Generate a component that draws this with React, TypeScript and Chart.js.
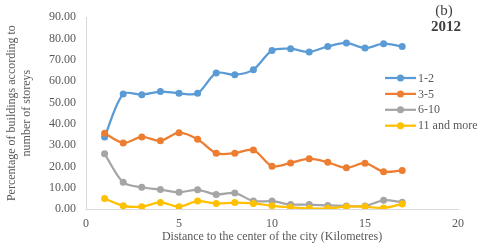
import React, { useEffect, useRef } from "react";
import { Chart, registerables } from "chart.js";

Chart.register(...registerables);

const distances = [1, 2, 3, 4, 5, 6, 7, 8, 9, 10, 11, 12, 13, 14, 15, 16, 17];
const storeys1to2 = [33.8, 54.0, 53.6, 55.1, 54.3, 54.3, 63.8, 63.0, 65.4, 74.4, 75.2, 73.7, 76.3, 77.9, 75.5, 77.6, 76.3];
const storeys3to5 = [35.6, 31.0, 33.8, 32.0, 35.8, 32.7, 26.2, 26.2, 27.7, 20.1, 21.6, 23.6, 21.9, 19.3, 21.5, 17.5, 18.1];
const storeys6to10 = [25.9, 12.5, 10.2, 9.1, 7.9, 9.0, 6.8, 7.5, 3.7, 3.7, 2.1, 2.1, 1.7, 1.4, 1.4, 4.1, 3.2];
const storeys11plus = [4.9, 1.5, 1.1, 3.1, 1.1, 3.7, 2.6, 3.0, 2.6, 1.5, 0.8, 0.3, 0.3, 1.1, 1.1, 0.5, 2.3];
const seriesLabels = ["1-2", "3-5", "6-10", "11 and more"];
const seriesColors = ["#5B9BD5", "#ED7D31", "#A5A5A5", "#FFC000"];
const panelLabel = "(b)";
const yearLabel = "2012";

const FONT = "'Liberation Serif', 'Times New Roman', serif";
const TEXT = "#595959";

export default function App() {
  const ref = useRef<HTMLCanvasElement | null>(null);
  useEffect(() => {
    const canvas = ref.current;
    if (!canvas) return;
    const seriesValues = [storeys1to2, storeys3to5, storeys6to10, storeys11plus];
    const datasets = seriesValues.map((vals, i) => ({
      label: seriesLabels[i],
      data: vals.map((v, j) => ({ x: distances[j], y: v })),
      borderColor: seriesColors[i],
      backgroundColor: seriesColors[i],
      borderWidth: 2.25,
      pointRadius: 3.5,
      pointBorderWidth: 0,
      pointHoverRadius: 3.5,
      tension: 0.3,
      order: 3 - i,
    }));
    const overlay = {
      id: "overlay",
      afterDraw(chart: any) {
        const ctx = chart.ctx;
        ctx.save();
        // legend
        seriesLabels.forEach((lab, i) => {
          const y = 78 + i * 15.9;
          ctx.strokeStyle = seriesColors[i];
          ctx.lineWidth = 2.25;
          ctx.beginPath();
          ctx.moveTo(385, y);
          ctx.lineTo(416, y);
          ctx.stroke();
          ctx.fillStyle = seriesColors[i];
          ctx.beginPath();
          ctx.arc(400.5, y, 3.5, 0, Math.PI * 2);
          ctx.fill();
          ctx.fillStyle = TEXT;
          ctx.font = `12px ${FONT}`;
          ctx.textAlign = "left";
          ctx.textBaseline = "middle";
          ctx.fillText(lab, 418, y + 0.5);
        });
        ctx.fillStyle = "#404040";
        ctx.textAlign = "center";
        ctx.textBaseline = "middle";
        ctx.font = `15px ${FONT}`;
        ctx.fillText(panelLabel, 444, 11);
        ctx.font = `bold 15px ${FONT}`;
        ctx.fillText(yearLabel, 446, 27);
        ctx.restore();
      },
    };
    const chart = new Chart(canvas, {
      type: "line",
      data: { datasets },
      options: {
        animation: false,
        responsive: false,
        maintainAspectRatio: false,
        layout: { padding: { top: 12, right: 22, bottom: 0, left: 0 } },
        plugins: { legend: { display: false }, tooltip: { enabled: false } },
        scales: {
          x: {
            type: "linear",
            min: 0,
            max: 20,
            ticks: { stepSize: 5, color: TEXT, font: { family: FONT, size: 12 }, padding: 8 },
            grid: { display: false, drawTicks: false },
            border: { display: true, color: "#D9D9D9", width: 1 },
            title: {
              display: true,
              text: "Distance to the center of the city (Kilometres)",
              color: TEXT,
              font: { family: FONT, size: 12 },
              padding: { top: 0, bottom: 1 },
            },
            afterFit: (s: any) => {
              s.height = 36;
            },
          },
          y: {
            min: 0,
            max: 90,
            ticks: {
              stepSize: 10,
              color: TEXT,
              font: { family: FONT, size: 12 },
              padding: 10,
              callback: (v: any) => Number(v).toFixed(2),
            },
            grid: { display: false, drawTicks: false },
            border: { display: true, color: "#D9D9D9", width: 1 },
            title: {
              display: true,
              text: ["Percentage of buildings according to", "number of storeys"],
              color: TEXT,
              font: { family: FONT, size: 12 },
              padding: { top: 5, bottom: 0 },
            },
            afterFit: (s: any) => {
              s.width = 86;
            },
          },
        },
      },
      plugins: [overlay],
    });
    return () => chart.destroy();
  }, []);
  return (
    <div style={{ position: "absolute", left: 0, top: 0, width: 480, height: 245, background: "#fff" }}>
      <canvas ref={ref} width={480} height={245} />
    </div>
  );
}
